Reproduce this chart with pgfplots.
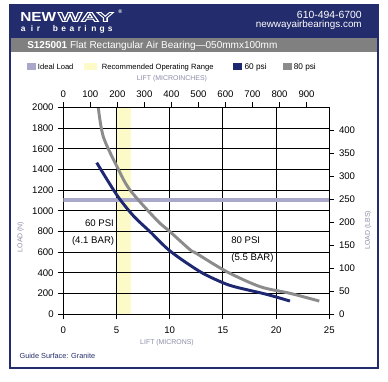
\documentclass[border=0pt]{standalone}
\usepackage{pgfplots}
\pgfplotsset{compat=1.18}
\usepackage{fontspec}
\setmainfont{Liberation Sans}
\definecolor{navy}{RGB}{35,44,108}
\definecolor{line60}{RGB}{30,40,112}
\definecolor{gband}{RGB}{128,128,128}
\definecolor{line80}{RGB}{140,140,140}
\definecolor{lav}{RGB}{170,168,202}
\definecolor{yel}{RGB}{252,250,200}
\definecolor{lbl}{RGB}{140,140,168}
\newcommand{\fs}[1]{\fontsize{#1}{#1}\selectfont}
\begin{document}
\begin{tikzpicture}[x=0.75pt,y=-0.75pt]
% background
\fill[white] (0,0) rectangle (388,381);
% header
\fill[navy] (10,5) rectangle (378,38);
\fill[gband] (10,38) rectangle (378,52);
\draw[navy,line width=1.5pt] (10,5) rectangle (378,368);
% logo
\node[anchor=base west,inner sep=0,white,font=\bfseries\fs{9.8},xscale=1.18] at (20,21.5) {NEW};
\node[anchor=base west,inner sep=0,white,font=\bfseries\fs{9.8},xscale=1.95] at (57.5,21.5) {\special{pdf:literal direct 1 Tr 0.5 w}WAY\special{pdf:literal direct 0 Tr}};
\node[anchor=base west,inner sep=0,white,font=\bfseries\fs{4}] at (118,14) {\textregistered};
\foreach \c/\xx in {a/20.7,i/30.7,r/36.7,b/52.7,e/61,a/69.3,r/77.7,i/84,n/91,g/99.3,s/107.7}
  \node[anchor=base west,inner sep=0,white,font=\bfseries\fs{6.3}] at (\xx,31.5) {\c};
\node[anchor=base east,inner sep=0,white,font=\fs{7.8}] at (362,19) {610-494-6700};
\node[anchor=base east,inner sep=0,white,font=\fs{7.4}] at (362,28) {newwayairbearings.com};
\node[anchor=base west,inner sep=0,white,font=\fs{7.5}] at (27,49) {\textbf{S125001} Flat Rectangular Air Bearing—050mmx100mm};
% legend
\fill[lav] (26.7,62.7) rectangle (35.5,70.3);
\node[anchor=base west,inner sep=0,font=\fs{5.7}] at (37.7,69.3) {Ideal Load};
\fill[yel] (84.3,62.7) rectangle (97.3,70.3);
\node[anchor=base west,inner sep=0,font=\fs{5.7}] at (101.7,69.3) {Recommended Operating Range};
\fill[line60] (233,62.7) rectangle (242,70.3);
\node[anchor=base west,inner sep=0,font=\fs{6.2}] at (244.3,69.3) {60 psi};
\fill[line80] (282.7,62.7) rectangle (291.5,70.3);
\node[anchor=base west,inner sep=0,font=\fs{6.2}] at (293.5,69.3) {80 psi};
% axis labels
\node[lbl,font=\fs{5.2}] at (167,343) {LIFT (MICRONS)};
\node[lbl,font=\fs{5.2}] at (172,79) {LIFT (MICROINCHES)};
\node[lbl,font=\fs{5.2},rotate=90] at (20.7,237) {LOAD (N)};
\node[lbl,font=\fs{5.2},rotate=90] at (368,230) {LOAD (LBS)};
\node[anchor=west,inner sep=0,navy,font=\fs{5.5}] at (19.3,356) {Guide Surface: Granite};
\pgfplotsset{
  myax/.style={at={(47.475pt,-235.725pt)},anchor=south west,scale only axis,
    width=199.5pt,height=155.25pt,
    tick align=outside,major tick length=3.75pt,
    every tick/.style={black,line width=0.75pt},
    axis line style={black,line width=0.75pt},
    ticklabel style={font=\fs{7.2}},
    /pgf/number format/assume math mode=true,
    /pgf/number format/1000 sep={}},
}
% yellow band
\begin{axis}[myax,hide axis,xmin=0,xmax=25,ymin=0,ymax=2000]
\addplot[fill=yel,draw=none] coordinates {(5.08,2000) (6.35,2000)} \closedcycle;
\end{axis}
% main axis
\begin{axis}[myax,xmin=0,xmax=25,ymin=0,ymax=2000,
  xtick={0,5,...,25},ytick={0,200,...,2000},
  xtick pos=bottom,ytick pos=left,
  xticklabel style={yshift=-1.8pt},
  grid=major,grid style={black,line width=0.75pt}]
\addplot[lav,line width=3pt] coordinates {(0,1100) (25,1100)};
\addplot[line80,line width=2.2pt,smooth,tension=0.5] coordinates {
(3.29,1996) (3.76,1716) (5.08,1420) (6.27,1201) (8.78,911) (10.03,798) (11.9,625) (12.5,589) (15.36,412) (18.5,267) (21.3,203) (24.06,128)};
\addplot[line60,line width=2.2pt,smooth,tension=0.5] coordinates {
(3.14,1465) (5.05,1150) (6.6,950) (8.15,798) (10.05,610) (12.85,412) (15.0,305) (16.3,261) (19.1,193) (21.3,128)};
\node[font=\fs{7.2}] at (axis cs:3.4,879) {60 PSI};
\node[font=\fs{7.2}] at (axis cs:2.8,708) {(4.1 BAR)};
\node[font=\fs{7.2}] at (axis cs:17.14,718) {80 PSI};
\node[font=\fs{7.2}] at (axis cs:17.78,541) {(5.5 BAR)};
\end{axis}
% top axis
\begin{axis}[myax,xmin=0,xmax=984.25,ymin=0,ymax=1,
  axis x line*=top,axis y line=none,
  xtick={0,100,...,900},ytick=\empty]
\end{axis}
% right axis
\begin{axis}[myax,xmin=0,xmax=1,ymin=0,ymax=449.62,
  axis y line*=right,axis x line=none,
  ytick={0,50,...,400},xtick=\empty]
\end{axis}
\end{tikzpicture}
\end{document}
